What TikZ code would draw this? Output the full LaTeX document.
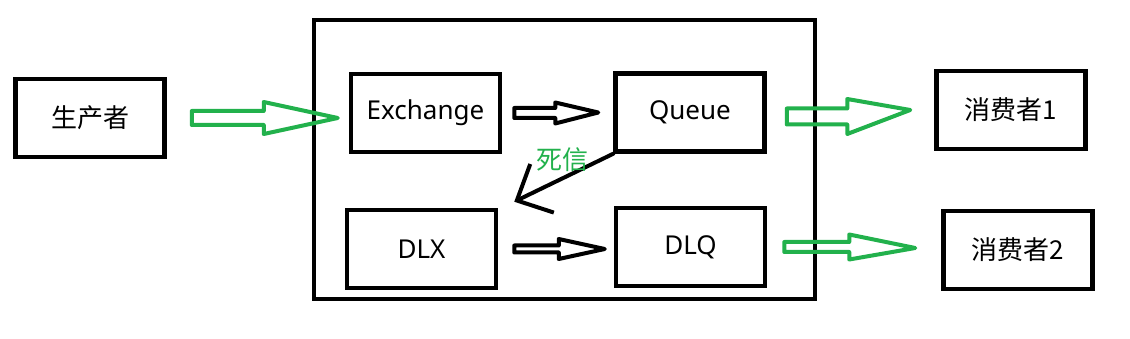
\documentclass[tikz,border=0pt]{standalone}
\usepackage{fontspec}
\setmainfont{Noto Sans}
\newfontfamily\cjk{Noto Sans CJK SC}
\usetikzlibrary{arrows.meta, calc}
\definecolor{paintgreen}{RGB}{34,177,76}

\begin{document}
\begin{tikzpicture}[
    x=1pt, y=-1pt,
    box/.style    = {draw, line width=4.5pt, minimum width=149pt, minimum height=78pt,
                     inner sep=0pt, font=\fontsize{26}{31}\selectfont},
    zbox/.style   = {box, font=\cjk\fontsize{26}{31}\selectfont},
    hollow/.style n args = {3}{line width=4pt, line join=round,
        to path={let \p1=(\tikztostart), \p2=(\tikztotarget) in
            (\x1,\y1+#1) -- (\x2-#3,\y1+#1) -- (\x2-#3,\y1+#2) -- (\x2,\y2)
            -- (\x2-#3,\y1-#2) -- (\x2-#3,\y1-#1) -- (\x1,\y1-#1) -- cycle}},
    garr/.style n args = {3}{hollow={#1}{#2}{#3}, draw=paintgreen},
    karr/.style n args = {3}{hollow={#1}{#2}{#3}, draw=black},
    dead/.style   = {line width=4pt, line cap=round,
                     -{Straight Barb[length=28pt, width=54pt]}},
]

\useasboundingbox (0,0) rectangle (1130,339);

%% ---- Broker frame ----

\node[draw, line width=4pt, minimum width=501pt, minimum height=279pt, inner sep=0pt]
    (mq) at (564.5,159.5) {};

%% ---- Boxes ----

\node[zbox] (prod)  at (90,118)     {生产者};
\node[box]  (exch)  at (425.5,113)  {Exchange};
\node[box]  (queue) at (690,112.5)  {Queue};
\node[box]  (dlx)   at (421.5,249)  {DLX};
\node[box]  (dlq)   at (690.5,247)  {DLQ};
\node[zbox] (c1)    at (1011,110)   {消费者1};
\node[zbox] (c2)    at (1018,250)   {消费者2};

%% ---- Arrow ends ----

\coordinate (g1a) at ($(prod.east)+(25,0)$);
\coordinate (g1b) at ($(exch.west |- prod.east)+(-11,0)$);
\coordinate (e1a) at ($(exch.east)+(12,0)$);
\coordinate (e1b) at ($(queue.west)+(-15,0)$);
\coordinate (g2a) at ($(queue.east)+(20,4)$);
\coordinate (g2b) at ($(c1.west)+(-24,0)$);
\coordinate (e2a) at ($(dlx.east)+(16,0)$);
\coordinate (e2b) at ($(dlq.west)+(-9,2)$);
\coordinate (g3a) at ($(dlq.east)+(17,0)$);
\coordinate (g3b) at ($(c2.west)+(-26,-2)$);
\coordinate (dl)  at ($(dlx.north east)+(16,-6)$);

%% ---- Hollow arrows ----

\draw[garr={7pt}{16pt}{74pt}]   (g1a) to (g1b);
\draw[karr={5pt}{10.5pt}{43pt}] (e1a) to (e1b);
\draw[garr={8pt}{17.5pt}{63pt}] (g2a) to (g2b);
\draw[karr={3.5pt}{10pt}{46pt}] (e2a) to (e2b);
\draw[garr={5pt}{12.5pt}{66pt}] (g3a) to (g3b);

%% ---- Dead letter ----

\draw[dead] (queue.south west) -- (dl);
\node[font=\cjk\fontsize{26}{31}\selectfont, text=paintgreen] (dlabel) at (562,160) {死信};

\end{tikzpicture}
\end{document}
